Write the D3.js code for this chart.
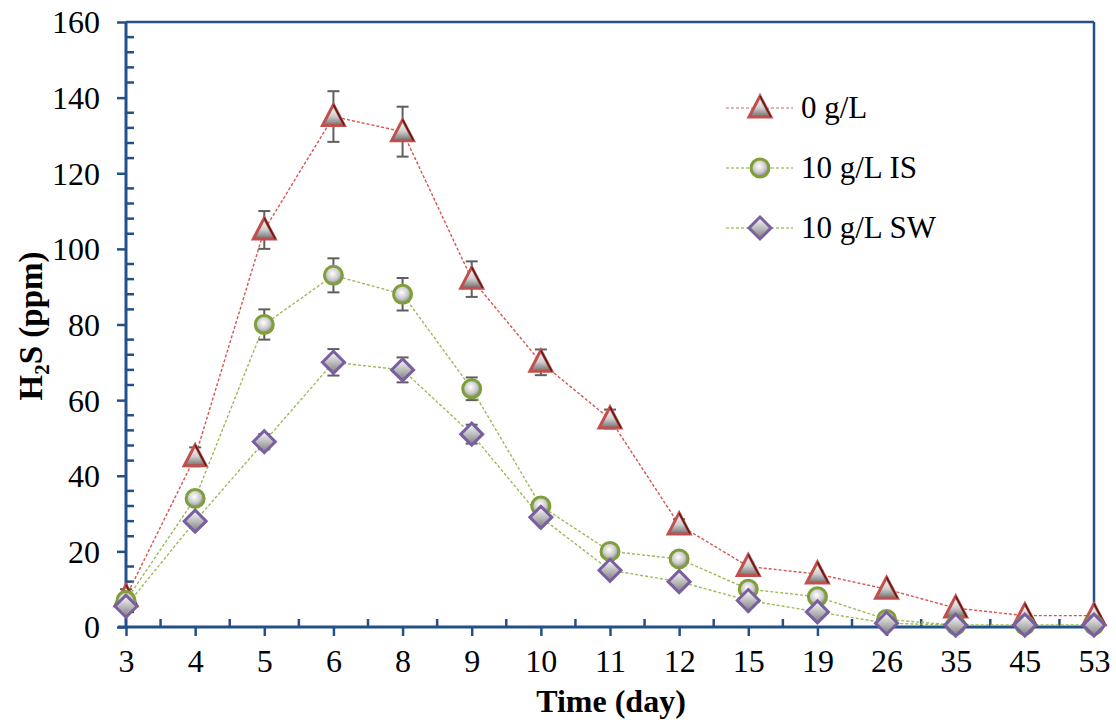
<!DOCTYPE html>
<html><head><meta charset="utf-8">
<script src="https://cdn.jsdelivr.net/npm/d3@7"></script>
<style>body{margin:0;background:#fff}svg{display:block}
svg text{font-family:"Liberation Serif","Times New Roman",serif;fill:#000}</style>
</head><body><svg id="c" width="1116" height="722"></svg>
<script>
const categories = ["3","4","5","6","8","9","10","11","12","15","19","26","35","45","53"];
const yTicks = [0,20,40,60,80,100,120,140,160];
const s0 = [8,45,105,135,131,92,70,55,27,16,14,10,5,3,3];
const s0err = [2,2.5,5,6.7,6.6,4.7,3.4,2.5,1.5,1,0.8,0.6,0.4,0.3,0.3];
const sIS = [7,34,80,93,88,63,32,20,18,10,8,2,0.5,0.5,0.5];
const sISerr = [1,1.5,4,4.5,4.3,3,1.5,1,0.8,0.6,0.5,0.3,0.2,0.2,0.2];
const sSW = [5.5,28,49,70,68,51,29,15,12,7,4,1,0.5,0.5,0.5];
const sSWerr = [1,1.2,2,3.5,3.3,2.5,1.2,0.8,0.6,0.5,0.4,0.2,0.2,0.2,0.2];
const seriesNames = ["0 g/L","10 g/L IS","10 g/L SW"];

const svg = d3.select("#c");
const L=126, R=1094, T=22, B=627;
const x = d3.scalePoint().domain(categories).range([L,R]).padding(0);
const y = d3.scaleLinear().domain([0,160]).range([B,T]);
const axisColor = "#24508a";

const defs = svg.append("defs");
const lg = defs.append("linearGradient").attr("id","gtri").attr("x1",0).attr("y1",0).attr("x2",0).attr("y2",1);
lg.append("stop").attr("offset","0%").attr("stop-color","#ffffff");
lg.append("stop").attr("offset","55%").attr("stop-color","#d0d0d0");
lg.append("stop").attr("offset","100%").attr("stop-color","#6e6e6e");
const lg2 = defs.append("linearGradient").attr("id","gdia").attr("x1",0).attr("y1",0).attr("x2",0).attr("y2",1);
lg2.append("stop").attr("offset","0%").attr("stop-color","#ffffff");
lg2.append("stop").attr("offset","50%").attr("stop-color","#bdbdbd");
lg2.append("stop").attr("offset","100%").attr("stop-color","#7a7a7a");
const rg = defs.append("radialGradient").attr("id","gcir").attr("cx","45%").attr("cy","40%").attr("r","60%");
rg.append("stop").attr("offset","0%").attr("stop-color","#ffffff");
rg.append("stop").attr("offset","60%").attr("stop-color","#c8c8c8");
rg.append("stop").attr("offset","100%").attr("stop-color","#7a7a7a");

svg.append("line").attr("x1",L).attr("x2",R).attr("y1",T).attr("y2",T).attr("stroke",axisColor).attr("stroke-width",2.5);
svg.append("line").attr("x1",R).attr("x2",R).attr("y1",T).attr("y2",B).attr("stroke",axisColor).attr("stroke-width",2.5);

const yAx = svg.append("g").attr("transform",`translate(${L},0)`)
  .call(d3.axisLeft(y).tickValues(yTicks).tickSize(9).tickPadding(17).tickFormat(d3.format("d")));
yAx.attr("font-family",null).attr("font-size",null);
yAx.select(".domain").attr("stroke",axisColor).attr("stroke-width",3).attr("d",`M0,${T}V${B}`);
yAx.selectAll(".tick line").attr("stroke",axisColor).attr("stroke-width",2.5);
yAx.selectAll(".tick text").style("font-size","32px").attr("dy","0.34em");
const yMinor = d3.range(0,160,4).filter(v=>v%20!==0);
svg.append("g").selectAll("line").data(yMinor).join("line")
  .attr("x1",L).attr("x2",L+8).attr("y1",d=>y(d)).attr("y2",d=>y(d)).attr("stroke",axisColor).attr("stroke-width",2.5);

const xAx = svg.append("g").attr("transform",`translate(0,${B})`)
  .call(d3.axisBottom(x).tickSize(9).tickPadding(13));
xAx.attr("font-family",null).attr("font-size",null);
xAx.select(".domain").attr("stroke",axisColor).attr("stroke-width",3).attr("d",`M${L-8},0H${R}`);
xAx.selectAll(".tick line").attr("stroke",axisColor).attr("stroke-width",2.5);
xAx.selectAll(".tick text").style("font-size","32px");
const step = x.step();
const xMinor = categories.slice(0,-1).map(c=>x(c)+step/2);
svg.append("g").selectAll("line").data(xMinor).join("line")
  .attr("x1",d=>d).attr("x2",d=>d).attr("y1",B).attr("y2",B-8).attr("stroke",axisColor).attr("stroke-width",2.5);

svg.append("text").attr("x",611).attr("y",712).attr("text-anchor","middle")
  .style("font-size","32px").style("font-weight","bold").text("Time (day)");
const yt = svg.append("text").attr("transform",`translate(42,326) rotate(-90)`).attr("text-anchor","middle")
  .style("font-size","33px").style("font-weight","bold");
yt.append("tspan").text("H");
yt.append("tspan").style("font-size","21px").attr("dy",7).text("2");
yt.append("tspan").attr("dy",-7).text("S (ppm)");

const series = [
  {name:seriesNames[0], vals:s0, err:s0err, line:"#d9534f", shape:"tri"},
  {name:seriesNames[1], vals:sIS, err:sISerr, line:"#9bbb59", shape:"cir"},
  {name:seriesNames[2], vals:sSW, err:sSWerr, line:"#9bbb59", shape:"dia"}
];

function drawMarker(g, shape){
  if(shape==="tri"){
    g.append("path").attr("d","M0,-12L11,9L-11,9Z").attr("fill","url(#gtri)").attr("stroke","#c0504d").attr("stroke-width",3).attr("stroke-linejoin","miter");
    g.append("path").attr("d","M0,-12L11,9").attr("stroke","#5a1a18").attr("stroke-width",1.5).attr("fill","none");
  } else if(shape==="cir"){
    g.append("circle").attr("r",9).attr("fill","url(#gcir)").attr("stroke","#7f9f3a").attr("stroke-width",3);
  } else {
    g.append("path").attr("d","M0,-11L11,0L0,11L-11,0Z").attr("fill","url(#gdia)").attr("stroke","#7a5fa0").attr("stroke-width",3);
  }
}

const line = d3.line().x((d,i)=>x(categories[i])).y(d=>y(d));
series.forEach(s=>{
  svg.append("path").datum(s.vals).attr("d",line).attr("fill","none")
    .attr("stroke",s.line).attr("stroke-width",1.4).attr("stroke-dasharray","3,2");
});
series.forEach(s=>{
  const g = svg.append("g");
  s.vals.forEach((v,i)=>{
    const cx = x(categories[i]);
    const y1 = y(v+s.err[i]), y2 = y(Math.max(0,v-s.err[i]));
    g.append("line").attr("x1",cx).attr("x2",cx).attr("y1",y1).attr("y2",y2).attr("stroke","#5f5f5f").attr("stroke-width",2);
    [y1,y2].forEach(yy=>g.append("line").attr("x1",cx-6).attr("x2",cx+6).attr("y1",yy).attr("y2",yy).attr("stroke","#5f5f5f").attr("stroke-width",2));
  });
});
series.forEach(s=>{
  s.vals.forEach((v,i)=>{
    const g = svg.append("g").attr("transform",`translate(${x(categories[i])},${y(v)})`);
    drawMarker(g,s.shape);
  });
});

const legY = [108,168,228];
series.forEach((s,i)=>{
  const g = svg.append("g").attr("transform",`translate(0,${legY[i]})`);
  g.append("line").attr("x1",726).attr("x2",793).attr("y1",0).attr("y2",0).attr("stroke",s.line==="#d9534f"?"#e39a98":"#a8c86a").attr("stroke-width",1.4).attr("stroke-dasharray","3,2");
  const m = g.append("g").attr("transform","translate(760,0)");
  drawMarker(m,s.shape);
  g.append("text").attr("x",801).attr("y",10).style("font-size","31px").text(s.name);
});
</script></body></html>
